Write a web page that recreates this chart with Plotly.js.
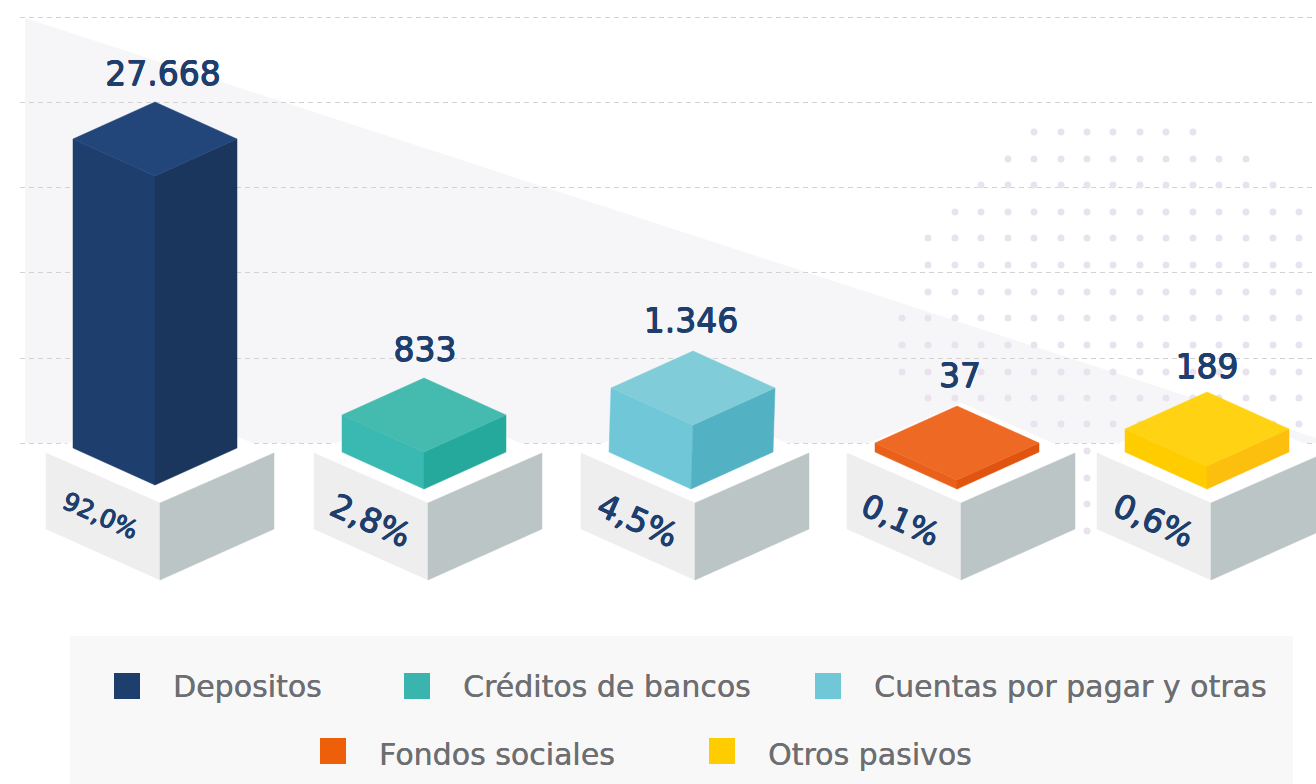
<!DOCTYPE html>
<html><head><meta charset="utf-8">
<script src="https://cdn.plot.ly/plotly-3.0.1.min.js"></script>
<style>html,body{margin:0;padding:0;background:#fff}#c{width:1316px;height:784px}</style>
</head><body><div id="c"></div>
<script>
// ---- data ----
const categories = ['Depositos','Créditos de bancos','Cuentas por pagar y otras','Fondos sociales','Otros pasivos'];
const valueLabels = ['27.668','833','1.346','37','189'];
const percentLabels = ['92,0%','2,8%','4,5%','0,1%','0,6%'];
// height of each block as drawn, in y-axis units (the infographic is not to a linear scale)
const drawnHeights = [309,37,64,9,23];

// ---- scene layout ----
const barX = [155,424,693,957,1207];
const baseX = [160,428,695,961,1211];
const barLift = [4,0,0,0,0];
const barSkew = [0,0,-2,0,0];
const labelDx = [8,1,-2,3,0];
const labelDy = [25,25,27,27,22];
const pctX = [100,371,638,900,1154];
const pctY = [-26,-31,-31,-31,-31];
const pctSize = [25,33,33,32,33];
const HW = 82, RISE = 37, BW = 114;
const legendX = [127,417,828,333,722];
const legendY = [-197,-197,-197,-262,-262];
const legendTextY = [-197,-197,-197,-265,-265];
const gridY = [472,387,302,217,131,46];
const dotRows = [[357,1034,1193],[330,1008,1246],[304,981,1273],[277,955,1299],[251,928,1299],[224,928,1299],[197,928,1299],[171,902,1299],[144,902,1299],[117,902,1299],[91,928,1299],[65,1034,1299],[38,1087,1087],[11,1087,1087],[-15,1087,1087],[-42,1087,1087]];
const dotCols = [902,928,955,981,1008,1034,1061,1087,1113,1140,1166,1193,1219,1246,1273,1299];

// ---- styles ----
const NAVY = '#1e3f6e', GREY_TEXT = '#6d6e71';
const FONT = '"DejaVu Sans", sans-serif';
const thicken = c => `0.5px 0 0 ${c}, -0.5px 0 0 ${c}, 0 0.5px 0 ${c}, 0 -0.5px 0 ${c}`;
const colTop = ['#22457a','#45baae','#80ccd8','#ee6a24','#ffd213'];
const colLeft = ['#1e3f6e','#3ab8b2','#6fc7d8','#e9601a','#ffcc00'];
const colRight = ['#1b365d','#25a99c','#52b1c2','#e0540f','#fdbf0e'];
const colSwatch = ['#1e3f6e','#3ab5ae','#6fc7d8','#ee5f0a','#ffcc00'];

const poly = (xs, ys, color) => ({
  type:'scatter', mode:'lines', x:[...xs, xs[0]], y:[...ys, ys[0]], fill:'toself',
  fillcolor:color, line:{color:color, width:0.5}, hoverinfo:'skip', showlegend:false
});

const traces = [];
// dotted texture
const dx=[], dy=[];
dotRows.forEach(([y,a,b]) => dotCols.filter(c => c>=a && c<=b).forEach(c => { dx.push(c); dy.push(y); }));
traces.push({type:'scatter', mode:'markers', x:dx, y:dy, marker:{size:7, color:'#e9e3ef'}, hoverinfo:'skip', showlegend:false});

categories.forEach((name,i) => {
  // pedestal
  const c = baseX[i];
  traces.push(poly([c-BW,c,c+BW,c],[36,86,36,-14],'#ffffff'));
  traces.push(poly([c-BW,c,c,c-BW],[36,-14,-91,-40],'#eeeeee'));
  traces.push(poly([c,c+BW,c+BW,c],[-14,36,-40,-91],'#bcc5c6'));
  // block
  const x = barX[i], b = barLift[i], h = drawnHeights[i], s = barSkew[i];
  const top = b + h;
  traces.push(poly([x-HW+s,x+s,x,x-HW],[b+RISE,b,top,top+RISE],colLeft[i]));
  traces.push(poly([x+s,x+HW+s,x+HW,x],[b,b+RISE,top+RISE,top],colRight[i]));
  traces.push(poly([x-HW,x,x+HW,x],[top+RISE,top+2*RISE,top+RISE,top],colTop[i]));
});

// value labels
traces.push({type:'scatter', mode:'text',
  x:barX.map((x,i)=>x+labelDx[i]),
  y:drawnHeights.map((h,i)=>barLift[i]+h+2*RISE+labelDy[i]),
  text:valueLabels, textposition:'middle center',
  textfont:{family:FONT, size:33, color:NAVY, shadow:thicken(NAVY)},
  hoverinfo:'skip', showlegend:false});
// legend swatches
traces.push({type:'scatter', mode:'markers', x:legendX, y:legendY,
  marker:{symbol:'square', size:26, color:colSwatch, line:{width:0}},
  hoverinfo:'text', text:categories, showlegend:false});

const annotations = [];
categories.forEach((name,i) => {
  annotations.push({x:pctX[i], y:pctY[i], text:percentLabels[i], showarrow:false, textangle:24,
    xanchor:'center', yanchor:'middle',
    font:{family:FONT, size:pctSize[i], color:NAVY, shadow:thicken(NAVY)}});
  annotations.push({x:legendX[i]+44, y:legendTextY[i], text:name, showarrow:false, xanchor:'left', yanchor:'middle',
    font:{family:FONT, size:30, color:GREY_TEXT, shadow:'0.3px 0 0 '+GREY_TEXT}});
});

const layout = {
  width:1316, height:784, margin:{l:20,r:0,t:0,b:0},
  paper_bgcolor:'#ffffff', plot_bgcolor:'#ffffff', showlegend:false, hovermode:'closest',
  xaxis:{range:[20,1316], showgrid:false, zeroline:false, showticklabels:false, ticks:'', showline:false, fixedrange:true},
  yaxis:{range:[-295,489], tickmode:'array', tickvals:gridY, showticklabels:false, ticks:'', showline:false,
         showgrid:true, gridcolor:'#d2d2d2', gridwidth:1, griddash:'5px,4px', zeroline:false, fixedrange:true},
  shapes:[
    {type:'path', layer:'below', path:'M 25 471 L 1316 51 L 1316 46 L 25 46 Z', fillcolor:'#f6f6f8', line:{width:0}},
    {type:'rect', layer:'between', x0:70, x1:1293, y0:-295, y1:-147, fillcolor:'#f8f8f8', line:{width:0}}
  ],
  annotations
};
Plotly.newPlot('c', traces, layout, {displayModeBar:false, staticPlot:true});
</script></body></html>
